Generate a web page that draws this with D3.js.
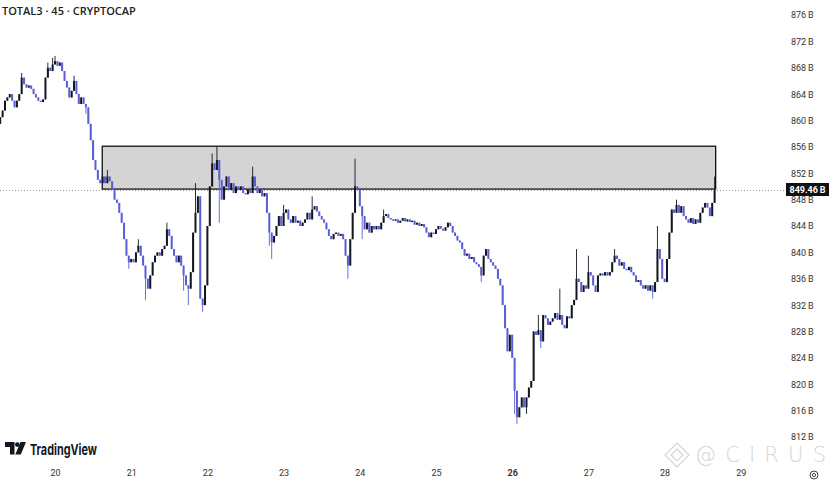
<!DOCTYPE html>
<html><head><meta charset="utf-8">
<script src="https://cdn.jsdelivr.net/npm/d3@7"></script>
<style>
html,body{margin:0;padding:0;background:#fff;}
svg{display:block;}
</style></head>
<body><svg id="c" width="829" height="481"></svg>
<script>
// ---- DATA ----
const title = "TOTAL3 · 45 · CRYPTOCAP";
const startDay = 19.28125;          // first candle (day-of-month, 06:45)
const stepDays = 0.03125;           // 45 minutes
const firstOpen = 859.5;
const closes = [
860.5,861.5,863,863.5,864,863,862,863,864,866.5,
865.5,865,865.3,864.8,864,863.5,863,862.8,863.2,866.5,
868,867.5,868.5,869,868.3,868.8,867.5,866,865,863.5,
864.5,866,864,862.5,863.5,862.5,862,859.5,857,854,
852.5,851,850.5,851.5,850.5,851.5,850.8,849.5,848,847.5,
846,844.5,842,839.5,838.5,839,838.5,840,841,839.5,
838,836,834.5,836.5,838.5,839.5,840,839.5,840.5,841,
843.5,842.5,840.5,839.5,838.5,839.5,838,836.5,835,834.5,
837,843,846,848.5,833,832,835,844,850,853.5,
852.5,854,851,848,850,851.5,849.5,850.5,849,850,
849.5,850,849,848.8,849.5,849,851.5,850,849,849.5,
848.5,849,846,843,841.5,842.5,844,845.5,844,846,
846.5,845,844.5,845.5,844.5,844.8,844,844.5,845,846,
845,846.5,847,846.2,845.5,845,844.5,843.5,842.5,842,
842.8,843,842.5,842.8,842,839.5,838,842,846,850,
849.5,847,845.5,843.5,844.5,843,844,843.5,844,843.5,
844.5,845.5,845.8,845.2,845,844.8,845,844.5,844.8,845.2,
844.7,845,844.6,844.8,844.2,844.5,844,844.3,843.8,843,
842.3,843,842.8,843.5,844,843.6,843.3,843.8,844.5,844,
843,842.5,841.8,841.5,840.5,839.5,839.8,839,839.3,838.5,
838.2,837.8,836.5,839.5,840.5,839,838.5,838,837.5,836,
835,832,828.5,825,827.5,824,819,815,816.5,818,
816.5,818,819.5,820.5,828,827.5,828.2,826.5,830.5,830,
829,829.5,830,830.8,829.8,830.5,829,828.5,830.3,830,
832,832.8,836,835.5,834,835,834.5,837,836.5,835,
834,836.5,836.8,836.5,837,836.5,837,838.5,839.5,839,
838,838.5,837.5,837.3,837.8,837,836.5,835.5,835.8,835,
834.5,835,834.2,835,834,835.5,840.5,839,836,835.5,
839,843,846.5,846,847.2,846,847,845.5,845,844.5,
845.2,844.3,845,844.5,846,846.8,847.5,846.8,845.5,847.5,
849.46
];
// notable wick extremes: [candle index, price]
const wickHighs = [[9,867.2],[20,868.8],[22,869.5],[23,869.8],[31,866.8],[45,852.5],[58,842],[70,844.5],[82,850.5],[89,855],[91,856],[106,853],[119,847.2],[131,848.5],[149,854.2],[161,846.5],[226,830.5],[235,834.5],[242,840.5],[247,839.5],[258,840.5],[276,844],[284,848],[300,851.5]];
const wickLows = [[36,861],[54,837.5],[61,832.8],[77,834.2],[79,832],[85,831],[92,844.5],[113,841],[114,839],[146,836],[152,842],[202,835.5],[216,815.5],[217,814],[221,815.5],[227,825.5],[274,833]];
const zoneDays = [20.62, 28.67];
const zonePrices = [849.6, 856.1];
const lastPrice = 849.46;
const yTicks = [812,816,820,824,828,832,836,840,844,848,852,856,860,864,868,872,876];
const xTicks = [20,21,22,23,24,25,26,27,28,29];

// ---- BUILD ----
const hiMap = new Map(wickHighs), loMap = new Map(wickLows);
const candles = closes.map((c,i)=>{
  const o = i===0 ? firstOpen : closes[i-1];
  const h = Math.max(o,c, hiMap.has(i)?hiMap.get(i):-Infinity);
  const l = Math.min(o,c, loMap.has(i)?loMap.get(i):Infinity);
  return {t:startDay+i*stepDays,o,h,l,c};
});

const svg = d3.select("#c");
const x = d3.scaleLinear().domain([20,29]).range([55,740.8]);
const y = d3.scaleLinear().domain([812,876]).range([437,15]);

const UP = "#131722", DOWN = "#5a5ed6";

// zone rectangle
svg.append("rect")
  .attr("x", x(zoneDays[0])).attr("y", y(zonePrices[1]))
  .attr("width", x(zoneDays[1])-x(zoneDays[0]))
  .attr("height", y(zonePrices[0])-y(zonePrices[1]))
  .attr("fill","#d4d4d4").attr("stroke","#111").attr("stroke-width",1.3);

// last price dotted line
svg.append("line").attr("x1",0).attr("x2",785)
  .attr("y1",Math.round(y(lastPrice))+0.5).attr("y2",Math.round(y(lastPrice))+0.5)
  .attr("stroke","#9a9a9a").attr("stroke-width",1).attr("stroke-dasharray","1,2");

// candles
const g = svg.append("g");
const bw = 2;
g.selectAll("line.w").data(candles).join("line")
  .attr("x1",d=>x(d.t)).attr("x2",d=>x(d.t))
  .attr("y1",d=>y(d.h)).attr("y2",d=>y(d.l))
  .attr("stroke",d=>d.c>=d.o?UP:DOWN).attr("stroke-width",0.9);
g.selectAll("rect.b").data(candles).join("rect")
  .attr("x",d=>x(d.t)-bw/2)
  .attr("y",d=>y(Math.max(d.o,d.c)))
  .attr("width",bw)
  .attr("height",d=>Math.max(1,Math.abs(y(d.o)-y(d.c))))
  .attr("fill",d=>d.c>=d.o?UP:DOWN);

// y axis
const yAxis = svg.append("g").attr("transform","translate(785,0)")
  .call(d3.axisRight(y).tickValues(yTicks).tickSize(0).tickPadding(6).tickFormat(d=>d+"\u2009B"));
yAxis.select(".domain").remove();
yAxis.selectAll("text").attr("font-family","Roboto, sans-serif").attr("font-size",9).attr("fill","#333");

// last price label
svg.append("rect").attr("x",786).attr("y",y(lastPrice)-7).attr("width",43).attr("height",13).attr("fill","#111");
svg.append("text").attr("x",807.5).attr("y",y(lastPrice)+3.3).attr("text-anchor","middle")
  .attr("font-family","Roboto, sans-serif").attr("font-size",9).attr("font-weight",700).attr("fill","#fff")
  .text(lastPrice.toFixed(2)+"\u2009B");

// x axis
const xAxis = svg.append("g").attr("transform","translate(0,470)")
  .call(d3.axisBottom(x).tickValues(xTicks).tickSize(0).tickPadding(0).tickFormat(d3.format("d")));
xAxis.select(".domain").remove();
xAxis.selectAll("text").attr("font-family","Roboto, sans-serif").attr("font-size",9).attr("fill","#333")
  .attr("font-weight",d=>d===26?700:400);

// title
svg.append("text").attr("x",2).attr("y",15).attr("font-family","'Open Sans', sans-serif")
  .attr("font-size",11).attr("font-weight",600).attr("fill","#222").text(title);

// TradingView logo
const lg = svg.append("g").attr("fill","#131722");
lg.append("path").attr("d","M5 442 h9.5 v12.5 h-4.5 v-7.5 h-5 z");
lg.append("circle").attr("cx",17.3).attr("cy",444.6).attr("r",2.3);
lg.append("path").attr("d","M20.5 442 h5.5 l-5.2 12.5 h-5.5 z");
svg.append("text").attr("x",30).attr("y",455).attr("font-family","Inter, sans-serif")
  .attr("font-size",15).attr("font-weight",700).attr("fill","#131722")
  .attr("textLength",67).attr("lengthAdjust","spacingAndGlyphs").text("TradingView");

// watermark
const wm = svg.append("g").attr("fill","none").attr("stroke","#d4d4d4").attr("stroke-width",1.2);
wm.append("path").attr("d","M677 443 L689 455 L677 467 L665 455 Z");
wm.append("path").attr("d","M677 449 L683 455 L677 461 L671 455 Z");
svg.append("text").attr("x",695).attr("y",462).attr("font-family","'DejaVu Sans', sans-serif")
  .attr("font-size",21).attr("font-weight",200).attr("fill","#d6d6d6")
  .attr("textLength",131).attr("lengthAdjust","spacing").text("@CIRUS");

// settings icon
svg.append("circle").attr("cx",814).attr("cy",475).attr("r",4).attr("fill","none").attr("stroke","#444").attr("stroke-width",1);
svg.append("circle").attr("cx",814).attr("cy",475).attr("r",1.6).attr("fill","none").attr("stroke","#444").attr("stroke-width",1);
</script></body></html>
